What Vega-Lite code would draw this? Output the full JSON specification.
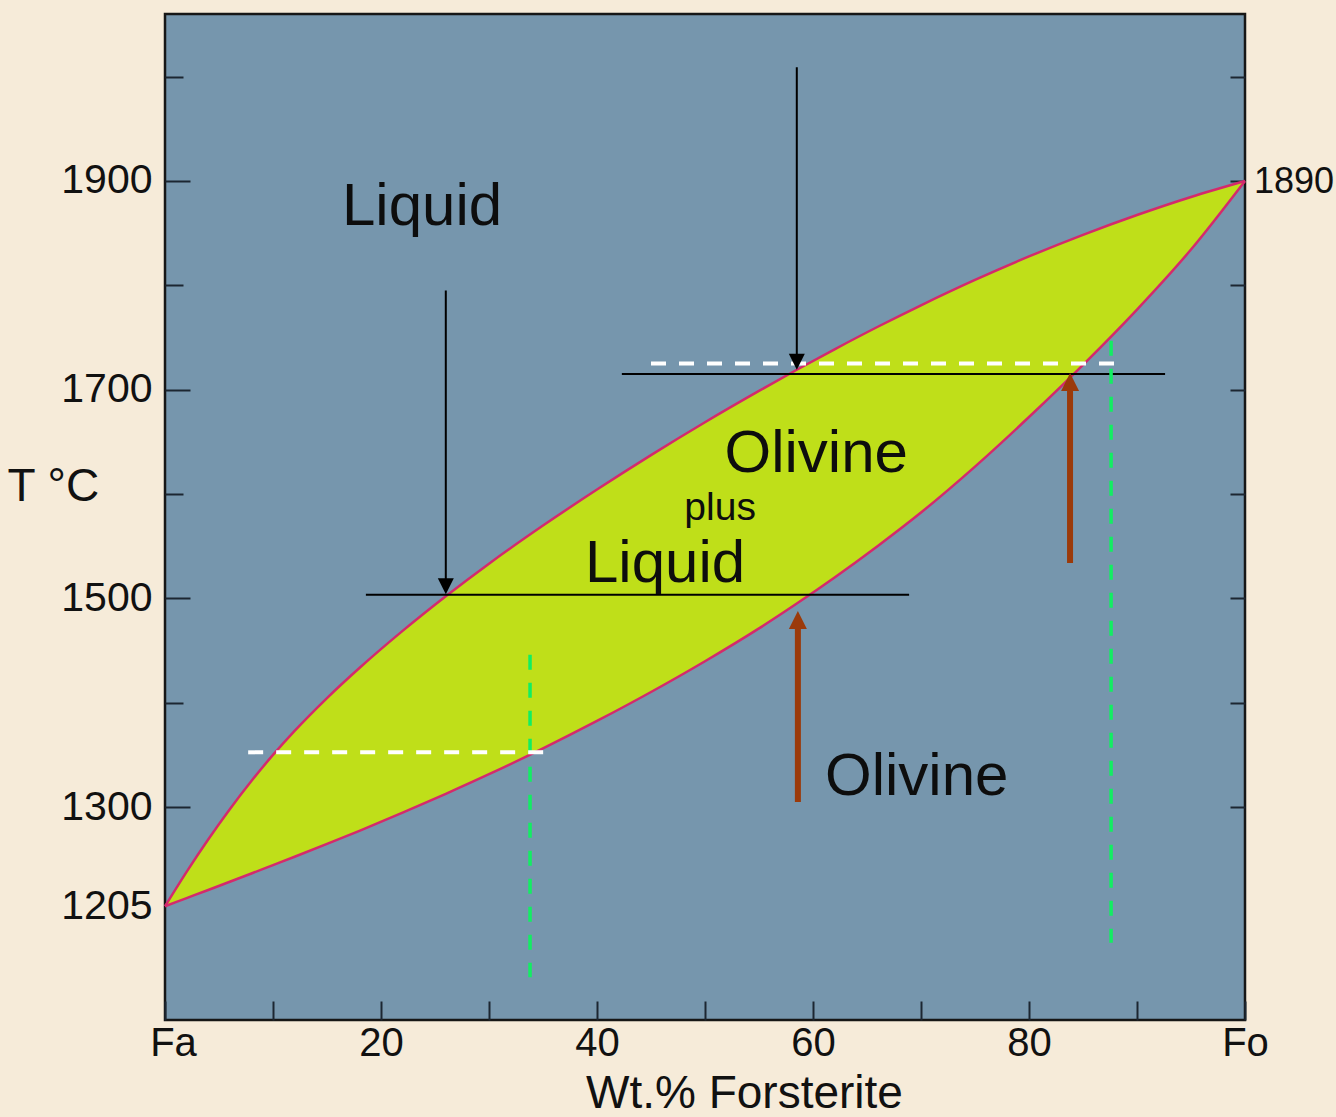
{
  "$schema": "https://vega.github.io/schema/vega-lite/v6.json",
  "autosize": "none",
  "width": 1080,
  "height": 1006,
  "padding": {"left": 165, "top": 14, "right": 91, "bottom": 97},
  "background": "#f6ebd9",
  "config": {
    "view": {"fill": "#7696ad", "stroke": "#161616", "strokeWidth": 2.5},
    "font": "Liberation Sans",
    "axis": {"labelFont": "Liberation Sans", "titleFont": "Liberation Sans", "labelColor": "#111111", "titleColor": "#111111", "tickColor": "#1c2631", "domain": false, "grid": false, "titleFontWeight": "normal"}
  },
  "datasets": {
    "curves": [
      {"x": 0, "T": 1205, "T2": 1205},
      {"x": 2, "T": 1238, "T2": 1212.8},
      {"x": 4, "T": 1269, "T2": 1220.6},
      {"x": 6, "T": 1298, "T2": 1228.5},
      {"x": 8, "T": 1325, "T2": 1236.4},
      {"x": 10, "T": 1350, "T2": 1244.4},
      {"x": 12, "T": 1373, "T2": 1252.4},
      {"x": 15, "T": 1404.5, "T2": 1264.7},
      {"x": 18, "T": 1433.3, "T2": 1277.3},
      {"x": 22, "T": 1468.9, "T2": 1294.7},
      {"x": 26, "T": 1502.1, "T2": 1312.75},
      {"x": 30, "T": 1533.3, "T2": 1331.55},
      {"x": 35, "T": 1569.8, "T2": 1356.3},
      {"x": 40, "T": 1604.3, "T2": 1382.55},
      {"x": 45, "T": 1637.3, "T2": 1410.3},
      {"x": 50, "T": 1668.8, "T2": 1439.8},
      {"x": 55, "T": 1698.8, "T2": 1471.3},
      {"x": 58.5, "T": 1719.1, "T2": 1495.1},
      {"x": 62, "T": 1738.7, "T2": 1520.1},
      {"x": 66, "T": 1760.3, "T2": 1550.3},
      {"x": 70, "T": 1780.9, "T2": 1582.3},
      {"x": 75, "T": 1805.2, "T2": 1626.3},
      {"x": 80, "T": 1827.7, "T2": 1673.8},
      {"x": 85, "T": 1848.4, "T2": 1723.8},
      {"x": 90, "T": 1867.4, "T2": 1776.8},
      {"x": 95, "T": 1884.7, "T2": 1834.3},
      {"x": 100, "T": 1900, "T2": 1900}
    ]
  },
  "resolve": {"axis": {"y": "independent"}},
  "layer": [
    {
      "data": {"name": "curves"},
      "mark": {"type": "area", "color": "#bfdf19", "interpolate": "monotone", "opacity": 1},
      "encoding": {
        "x": {
          "field": "x", "type": "quantitative",
          "scale": {"domain": [0, 100], "nice": false, "zero": false},
          "axis": {
            "values": [0, 10, 20, 30, 40, 50, 60, 70, 80, 90, 100],
            "labelExpr": "datum.value == 0 ? 'Fa' : (datum.value == 100 ? 'Fo' : (datum.value % 20 == 0 ? datum.label : ''))",
            "labelOffset": {"condition": {"test": "datum.value == 0", "value": 8}, "value": 0},
            "tickSize": -19, "tickWidth": 2,
            "labelFontSize": 40, "labelPadding": 22,
            "labelFlush": false, "labelOverlap": false,
            "title": "Wt.% Forsterite", "titleFontSize": 46,
            "titleX": 579, "titleY": 87, "titleBaseline": "alphabetic", "titleAlign": "center"
          }
        },
        "y": {
          "field": "T", "type": "quantitative",
          "scale": {"domain": [1096, 2060], "nice": false, "zero": false},
          "axis": {
            "orient": "left",
            "values": [2000, 1900, 1800, 1700, 1600, 1500, 1400, 1300, 1205],
            "format": "d",
            "labelExpr": "(datum.value == 1900 || datum.value == 1700 || datum.value == 1500 || datum.value == 1300 || datum.value == 1205) ? datum.label : ''",
            "tickSize": {"condition": {"test": "datum.value == 1900 || datum.value == 1700 || datum.value == 1500 || datum.value == 1300 || datum.value == 1205", "value": -25}, "value": -18},
            "tickOpacity": {"condition": {"test": "datum.value == 1205", "value": 0}, "value": 1},
            "tickWidth": 2,
            "labelFontSize": 41, "labelPadding": 38,
            "labelFlush": false, "labelOverlap": false,
            "title": "T °C", "titleAngle": 0, "titleFontSize": 46,
            "titleAlign": "left", "titleBaseline": "alphabetic",
            "titleX": -158, "titleY": 486
          }
        },
        "y2": {"field": "T2"}
      }
    },
    {
      "data": {"name": "curves"},
      "mark": {"type": "line", "color": "#d42a6c", "strokeWidth": 2.5, "interpolate": "monotone"},
      "encoding": {
        "x": {"field": "x", "type": "quantitative"},
        "y": {"field": "T", "type": "quantitative", "axis": null}
      }
    },
    {
      "data": {"name": "curves"},
      "mark": {"type": "line", "color": "#d42a6c", "strokeWidth": 2.5, "interpolate": "monotone"},
      "encoding": {
        "x": {"field": "x", "type": "quantitative"},
        "y": {"field": "T2", "type": "quantitative", "axis": null}
      }
    },
    {
      "data": {"values": [
        {"x": 18.6, "x2": 68.9, "T": 1503.5},
        {"x": 42.3, "x2": 92.6, "T": 1715}
      ]},
      "mark": {"type": "rule", "color": "#000000", "strokeWidth": 2},
      "encoding": {
        "x": {"field": "x", "type": "quantitative"},
        "x2": {"field": "x2"},
        "y": {"field": "T", "type": "quantitative", "axis": null}
      }
    },
    {
      "data": {"values": [
        {"x": 33.8, "T": 1446, "T2": 1137},
        {"x": 87.6, "T": 1747, "T2": 1170}
      ]},
      "mark": {"type": "rule", "color": "#12ee62", "strokeWidth": 3.5, "strokeDash": [15, 13]},
      "encoding": {
        "x": {"field": "x", "type": "quantitative"},
        "y": {"field": "T", "type": "quantitative", "axis": null},
        "y2": {"field": "T2"}
      }
    },
    {
      "data": {"values": [
        {"x": 7.7, "x2": 35.2, "T": 1352.5},
        {"x": 45.0, "x2": 87.9, "T": 1725}
      ]},
      "mark": {"type": "rule", "color": "#ffffff", "strokeWidth": 4, "strokeDash": [15, 13]},
      "encoding": {
        "x": {"field": "x", "type": "quantitative"},
        "x2": {"field": "x2"},
        "y": {"field": "T", "type": "quantitative", "axis": null}
      }
    },
    {
      "data": {"values": [
        {"x": 26.0, "T": 1795, "T2": 1504},
        {"x": 58.5, "T": 2009, "T2": 1719}
      ]},
      "mark": {"type": "rule", "color": "#000000", "strokeWidth": 2, "y2Offset": -6},
      "encoding": {
        "x": {"field": "x", "type": "quantitative"},
        "y": {"field": "T", "type": "quantitative", "axis": null},
        "y2": {"field": "T2"}
      }
    },
    {
      "data": {"values": [
        {"x": 26.0, "T": 1795, "T2": 1504},
        {"x": 58.5, "T": 2009, "T2": 1719}
      ]},
      "mark": {"type": "point", "shape": "M0,0L-1,-2L1,-2Z", "size": 256, "filled": true, "opacity": 1, "color": "#000000", "strokeWidth": 0},
      "encoding": {
        "x": {"field": "x", "type": "quantitative"},
        "y": {"field": "T2", "type": "quantitative", "axis": null}
      }
    },
    {
      "data": {"values": [
        {"x": 58.6, "T": 1305, "T2": 1488},
        {"x": 83.8, "T": 1534, "T2": 1716}
      ]},
      "mark": {"type": "rule", "color": "#9b3a0a", "strokeWidth": 6, "y2Offset": 10},
      "encoding": {
        "x": {"field": "x", "type": "quantitative"},
        "y": {"field": "T", "type": "quantitative", "axis": null},
        "y2": {"field": "T2"}
      }
    },
    {
      "data": {"values": [
        {"x": 58.6, "T": 1305, "T2": 1488},
        {"x": 83.8, "T": 1534, "T2": 1716}
      ]},
      "mark": {"type": "point", "shape": "M0,0L-1,2L1,2Z", "size": 324, "filled": true, "opacity": 1, "color": "#9b3a0a", "strokeWidth": 0},
      "encoding": {
        "x": {"field": "x", "type": "quantitative"},
        "y": {"field": "T2", "type": "quantitative", "axis": null}
      }
    },
    {
      "data": {"values": [
        {"x": 23.8, "T": 1858, "label": "Liquid"},
        {"x": 60.3, "T": 1621, "label": "Olivine"},
        {"x": 46.3, "T": 1516, "label": "Liquid"},
        {"x": 69.6, "T": 1312, "label": "Olivine"}
      ]},
      "mark": {"type": "text", "font": "Liberation Sans", "fontSize": 60, "align": "center", "baseline": "alphabetic", "color": "#0d0d0d"},
      "encoding": {
        "x": {"field": "x", "type": "quantitative"},
        "y": {"field": "T", "type": "quantitative", "axis": null},
        "text": {"field": "label"}
      }
    },
    {
      "data": {"values": [
        {"x": 51.4, "T": 1575, "label": "plus"}
      ]},
      "mark": {"type": "text", "font": "Liberation Sans", "fontSize": 39, "align": "center", "baseline": "alphabetic", "color": "#0d0d0d"},
      "encoding": {
        "x": {"field": "x", "type": "quantitative"},
        "y": {"field": "T", "type": "quantitative", "axis": null},
        "text": {"field": "label"}
      }
    },
    {
      "data": {"values": [
        {"x": 100, "T": 1888.5, "label": "1890"}
      ]},
      "mark": {"type": "text", "font": "Liberation Sans", "fontSize": 36, "align": "left", "baseline": "alphabetic", "dx": 9, "color": "#111111", "clip": false},
      "encoding": {
        "x": {"field": "x", "type": "quantitative"},
        "y": {"field": "T", "type": "quantitative", "axis": null},
        "text": {"field": "label"}
      }
    },
    {
      "data": {"name": "curves"},
      "mark": {"type": "line", "opacity": 0},
      "encoding": {
        "x": {"field": "x", "type": "quantitative"},
        "y": {
          "field": "T", "type": "quantitative",
          "axis": {"orient": "right", "values": [1300, 1400, 1500, 1600, 1700, 1800, 1900, 2000], "labels": false, "tickSize": -15, "tickWidth": 2, "title": null}
        }
      }
    }
  ]
}
